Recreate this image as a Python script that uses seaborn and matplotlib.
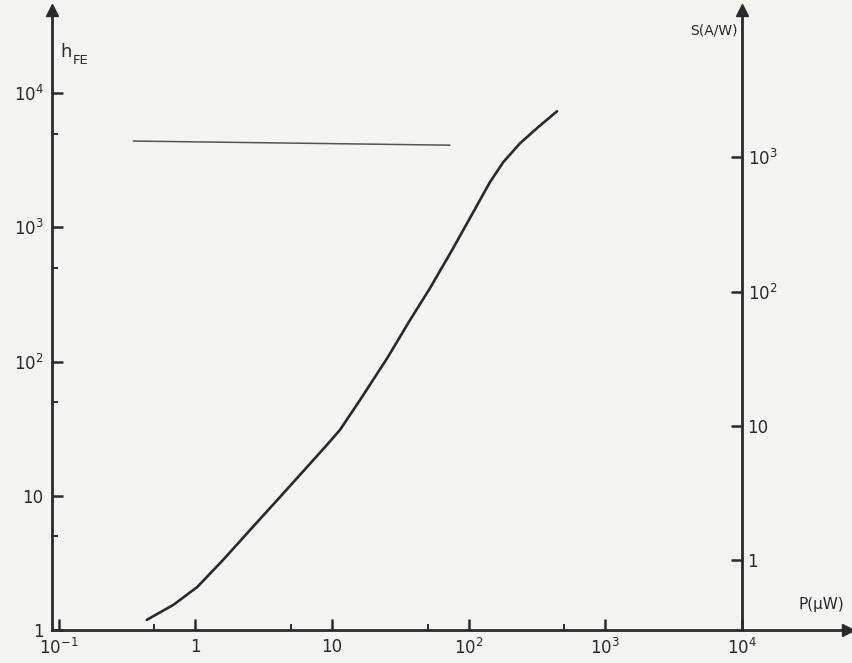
import numpy as np
import pandas as pd
import matplotlib
matplotlib.use("Agg")
import matplotlib.pyplot as plt
from matplotlib.ticker import FixedLocator, NullFormatter
import seaborn as sns

# ---- data ----
power_uW = [0.44, 0.69, 1.03, 1.59, 2.51, 4.16, 6.56, 8.88, 11.4, 16.0, 25.3,
            37.2, 52.1, 75.5, 108, 143, 179, 238, 322, 443]
hfe_curve = [1.19, 1.54, 2.09, 3.32, 5.56, 9.8, 16.4, 23.1, 30.9, 51.7, 106,
             204, 353, 677, 1300, 2174, 3063, 4245, 5580, 7340]
flat_P = [0.35, 73]
flat_h = [4400, 4100]

x_ticks = [0.1, 1, 10, 100, 1000, 10000]
x_labels = ["10$^{-1}$", "1", "10", "10$^{2}$", "10$^{3}$", "10$^{4}$"]
x_minor = [0.5, 5, 50, 500]
yl_ticks = [1, 10, 100, 1000, 10000]
yl_labels = ["1", "10", "10$^{2}$", "10$^{3}$", "10$^{4}$"]
yl_minor = [5, 50, 500, 5000]
yr_ticks = [1, 10, 100, 1000]
yr_labels = ["1", "10", "10$^{2}$", "10$^{3}$"]

sns.set_theme(style="white")
plt.rcParams["font.family"] = ["DejaVu Sans"]

ink = "#2a2a2a"
paper = "#f4f4f1"

fig = plt.figure(figsize=(8.52, 6.63), dpi=100, facecolor=paper)
ax = fig.add_axes([52 / 852, 33 / 663, 796 / 852, 620 / 663])
ax.set_facecolor("none")
ax.set_xscale("log")
ax.set_yscale("log")
xl = (10 ** -1.05, 10 ** (4 + 106 / 136.6))
ylo, yhi = 1, 10 ** 4.62
ax.set_xlim(*xl)
ax.set_ylim(ylo, yhi)

df = pd.DataFrame({"P": power_uW, "h": hfe_curve})
sns.lineplot(data=df, x="P", y="h", ax=ax, color=ink, lw=1.9,
             estimator=None, sort=False, solid_joinstyle="round",
             solid_capstyle="round")
sns.lineplot(x=flat_P, y=flat_h, ax=ax, color="#555555", lw=1.1,
             estimator=None, sort=False)

for s in ["top", "right"]:
    ax.spines[s].set_visible(False)
for s in ["left", "bottom"]:
    ax.spines[s].set_color(ink)
    ax.spines[s].set_linewidth(2.0)

ax.xaxis.set_major_locator(FixedLocator(x_ticks))
ax.set_xticklabels(x_labels)
ax.xaxis.set_minor_locator(FixedLocator(x_minor))
ax.xaxis.set_minor_formatter(NullFormatter())
ax.yaxis.set_major_locator(FixedLocator(yl_ticks))
ax.set_yticklabels(yl_labels)
ax.yaxis.set_minor_locator(FixedLocator(yl_minor))
ax.yaxis.set_minor_formatter(NullFormatter())
ax.tick_params(axis="both", which="major", direction="in", length=8, width=1.8,
               color=ink, labelcolor=ink, labelsize=12, pad=6)
ax.tick_params(axis="both", which="minor", direction="in", length=4, width=1.4,
               color=ink)
ax.tick_params(axis="x", which="both", bottom=True)
ax.tick_params(axis="y", which="both", left=True)
ax.set_xlabel("")
ax.set_ylabel("")

# right axis (S)
ax2 = ax.twinx()
ax2.set_yscale("log")
off = 10 ** 0.522
ax2.set_ylim(ylo / off, yhi / off)
for s in ["top", "left", "bottom"]:
    ax2.spines[s].set_visible(False)
ax2.spines["right"].set_position(("data", 1e4))
ax2.spines["right"].set_color(ink)
ax2.spines["right"].set_linewidth(2.0)
ax2.yaxis.set_major_locator(FixedLocator(yr_ticks))
ax2.set_yticklabels(yr_labels)
ax2.yaxis.set_minor_locator(FixedLocator([]))
ax2.tick_params(axis="y", which="major", direction="in", length=8, width=1.8,
                color=ink, labelcolor=ink, labelsize=12, pad=4, right=True)
ax2.grid(False)
ax.grid(False)

# arrow heads
ax.plot([0], [1], marker="^", ms=9, color=ink, transform=ax.transAxes, clip_on=False)
ax.plot([1], [0], marker=">", ms=9, color=ink, transform=ax.transAxes, clip_on=False)
ax.plot([1e4], [1], marker="^", ms=9, color=ink, transform=ax.get_xaxis_transform(),
        clip_on=False)

# axis titles
fig.text(60 / 852, 1 - 52 / 663, "h", color=ink, fontsize=13, va="center")
fig.text(73 / 852, 1 - 61 / 663, "FE", color=ink, fontsize=9.5, va="center")
fig.text(738 / 852, 1 - 30 / 663, "S(A/W)", color=ink, fontsize=10, va="center", ha="right")
fig.text(798 / 852, 1 - 605 / 663, "P(μW)", color=ink, fontsize=11, va="center", ha="left")

fig.savefig("out.png", dpi=100, facecolor=paper)
